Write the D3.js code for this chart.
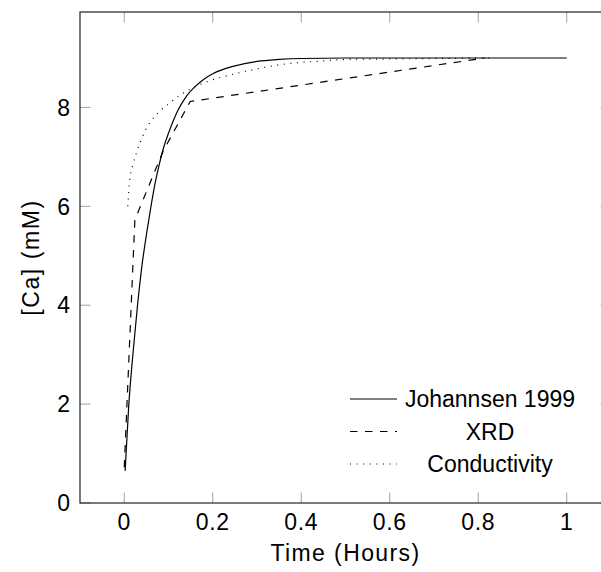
<!DOCTYPE html>
<html>
<head>
<meta charset="utf-8">
<script src="https://cdn.jsdelivr.net/npm/d3@7"></script>
<style>
  body { margin: 0; background: #fff; }
  text { font-family: "Liberation Sans", Arial, sans-serif; fill: #000; }
</style>
</head>
<body>
<div id="chart"></div>
<script>
let w = 601,
    h = 572;

// Johannsen 1999 (smooth curve)
let johannsenTime = [0.002, 0.01, 0.02, 0.03, 0.04, 0.05, 0.06, 0.07, 0.08, 0.09, 0.1, 0.12, 0.14, 0.16, 0.18, 0.2, 0.25, 0.3, 0.35, 0.4, 0.5, 0.7, 1.0];
let johannsenCa   = [0.65, 1.95, 3.05, 4.0, 4.8, 5.42, 5.98, 6.48, 6.88, 7.22, 7.48, 7.92, 8.22, 8.42, 8.57, 8.68, 8.84, 8.93, 8.97, 8.99, 9.0, 9.0, 9.0];

// XRD (piecewise linear)
let xrdTime = [0.0, 0.024, 0.088, 0.149, 0.815];
let xrdCa   = [0.72, 5.73, 7.12, 8.12, 9.0];

// Conductivity
let condTime = [0.008, 0.012, 0.02, 0.03, 0.04, 0.05, 0.06, 0.08, 0.1, 0.13, 0.16, 0.2, 0.25, 0.3, 0.35, 0.4, 0.45, 0.5, 0.6, 0.7, 0.83];
let condCa   = [6.0, 6.5, 6.85, 7.15, 7.38, 7.58, 7.72, 7.92, 8.07, 8.27, 8.42, 8.56, 8.68, 8.78, 8.86, 8.91, 8.94, 8.97, 8.98, 8.99, 9.0];

let xTicks = [0, 0.2, 0.4, 0.6, 0.8, 1];
let yTicks = [0, 2, 4, 6, 8];
let legendLabels = ["Johannsen 1999", "XRD", "Conductivity"];

let margin = { top: 12, left: 80, right: 611, bottom: 503 };

let x = d3.scaleLinear().domain([-0.1, 1.1]).range([margin.left, margin.right]);
let y = d3.scaleLinear().domain([0, 9.93]).range([margin.bottom, margin.top]);

let svg = d3.select("#chart")
            .append("svg")
            .attr("width", w)
            .attr("height", h);

// ticks (inward, on all four sides)
let tickLen = 10.5;
let tickColor = "#a0a0a0";

xTicks.forEach(t => {
  svg.append("line")
     .attr("x1", x(t)).attr("x2", x(t))
     .attr("y1", margin.bottom).attr("y2", margin.bottom - tickLen)
     .attr("stroke", tickColor).attr("stroke-width", 1);
  svg.append("line")
     .attr("x1", x(t)).attr("x2", x(t))
     .attr("y1", margin.top).attr("y2", margin.top + tickLen)
     .attr("stroke", tickColor).attr("stroke-width", 1);
  svg.append("text")
     .attr("x", x(t))
     .attr("y", 530)
     .attr("text-anchor", "middle")
     .style("font-size", "23px")
     .style("letter-spacing", "0.6px")
     .text(d3.format("~g")(t));
});

yTicks.forEach(t => {
  svg.append("line")
     .attr("x1", margin.left).attr("x2", margin.left + tickLen)
     .attr("y1", y(t)).attr("y2", y(t))
     .attr("stroke", tickColor).attr("stroke-width", 1);
  svg.append("line")
     .attr("x1", margin.right).attr("x2", margin.right - tickLen)
     .attr("y1", y(t)).attr("y2", y(t))
     .attr("stroke", tickColor).attr("stroke-width", 1);
  svg.append("text")
     .attr("x", 70)
     .attr("y", y(t) + 8.2)
     .attr("text-anchor", "end")
     .style("font-size", "23px")
     .text(t);
});

// axis frame
svg.append("rect")
   .attr("x", margin.left)
   .attr("y", margin.top)
   .attr("width", margin.right - margin.left)
   .attr("height", margin.bottom - margin.top)
   .attr("fill", "none")
   .attr("stroke", "#222")
   .attr("stroke-width", 1.2);

// axis labels
svg.append("text")
   .attr("x", (margin.left + margin.right) / 2)
   .attr("y", 561)
   .attr("text-anchor", "middle")
   .style("font-size", "23px")
   .style("letter-spacing", "1.4px")
   .text("Time (Hours)");

svg.append("text")
   .attr("transform", "translate(39," + ((margin.top + margin.bottom) / 2) + ") rotate(-90)")
   .attr("text-anchor", "middle")
   .style("font-size", "23px")
   .style("letter-spacing", "1.6px")
   .text("[Ca] (mM)");

// series
let smoothLine = d3.line()
                   .x(d => x(d[0]))
                   .y(d => y(d[1]))
                   .curve(d3.curveMonotoneX);

let straightLine = d3.line()
                     .x(d => x(d[0]))
                     .y(d => y(d[1]));

let series = [
  { pts: d3.zip(johannsenTime, johannsenCa), gen: smoothLine, dash: null, width: 1.2 },
  { pts: d3.zip(xrdTime, xrdCa), gen: straightLine, dash: "7.5,7.5", width: 1.2 },
  { pts: d3.zip(condTime, condCa), gen: smoothLine, dash: "1,5.6", width: 1.2 }
];

series.forEach(s => {
  svg.append("path")
     .datum(s.pts)
     .attr("d", s.gen)
     .attr("fill", "none")
     .attr("stroke", "#000")
     .attr("stroke-width", s.width)
     .attr("stroke-dasharray", s.dash);
});

// legend
let legendRows = [399, 431.5, 464];
legendLabels.forEach((label, i) => {
  svg.append("line")
     .attr("x1", 350).attr("x2", 397)
     .attr("y1", legendRows[i]).attr("y2", legendRows[i])
     .attr("stroke", "#000")
     .attr("stroke-width", series[i].width)
     .attr("stroke-dasharray", series[i].dash);
  svg.append("text")
     .attr("x", 490)
     .attr("y", legendRows[i] + 8)
     .attr("text-anchor", "middle")
     .style("font-size", "23px")
     .text(label);
});
</script>
</body>
</html>
